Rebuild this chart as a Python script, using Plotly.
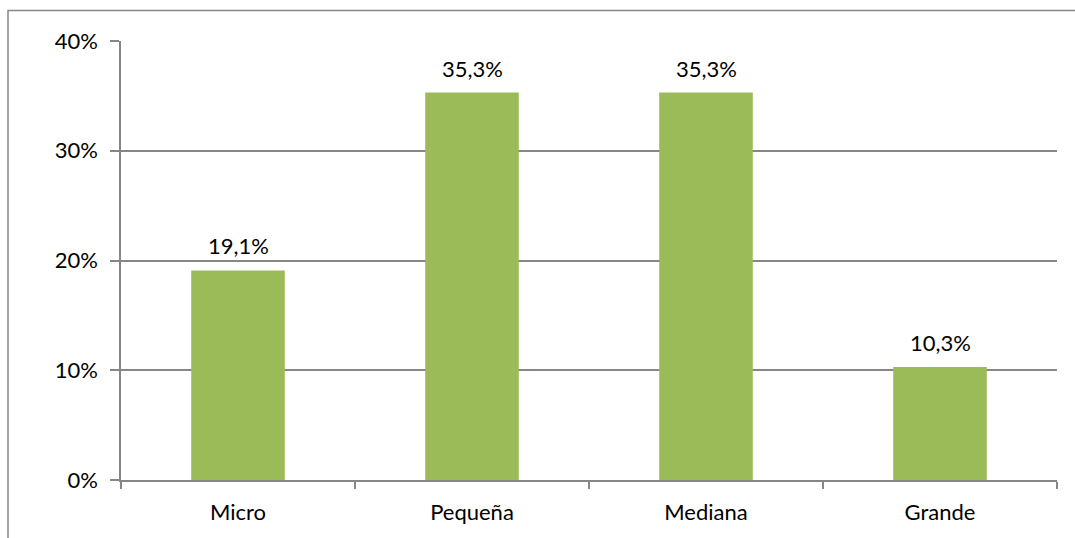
import plotly.graph_objects as go

categories = ["Micro", "Pequeña", "Mediana", "Grande"]
values = [0.191, 0.353, 0.353, 0.103]
labels = ["19,1%", "35,3%", "35,3%", "10,3%"]
y_ticks = [0, 0.1, 0.2, 0.3, 0.4]
y_tick_text = ["0%", "10%", "20%", "30%", "40%"]

W, H = 1075, 538
L, R, T, B = 121, 18, 41, 58
pw, ph = W - L - R, H - T - B

font = dict(family="Lato, Carlito, Calibri, sans-serif", size=22, color="#000000")
grid = "#868686"

fig = go.Figure(go.Bar(
    x=categories, y=values, width=0.4,
    marker=dict(color="#9BBB59", line=dict(width=0)),
    hoverinfo="x+y",
))

for c, v, t in zip(categories, values, labels):
    fig.add_annotation(x=c, y=v, text=t, showarrow=False, yanchor="bottom",
                       yshift=9, font=font)

fig.update_layout(
    width=W, height=H,
    margin=dict(l=L, r=R, t=T, b=B, pad=0),
    paper_bgcolor="white", plot_bgcolor="white",
    font=font, showlegend=False, bargap=0.6,
    xaxis=dict(showline=True, linecolor=grid, linewidth=1.5, ticks="outside",
               tickson="boundaries", ticklen=7, tickcolor=grid, tickwidth=1.5,
               showgrid=False, tickfont=font, fixedrange=True,
               ticklabelstandoff=12),
    yaxis=dict(range=[0, 0.4], tickvals=y_ticks, ticktext=y_tick_text,
               showline=True, linecolor=grid, linewidth=1.5, ticks="outside",
               ticklen=9, tickcolor=grid, tickwidth=1.5, showgrid=True,
               gridcolor=grid, gridwidth=1.5, zeroline=False, tickfont=font,
               fixedrange=True, ticklabelstandoff=8),
    shapes=[dict(type="rect", xref="paper", yref="paper",
                 x0=(8 - L) / pw, x1=(W + 20 - L) / pw,
                 y0=-(B + 20) / ph, y1=1 + (T - 10.5) / ph,
                 line=dict(color=grid, width=1.5), fillcolor="rgba(0,0,0,0)",
                 layer="below")],
)

fig.write_html("out.html")
